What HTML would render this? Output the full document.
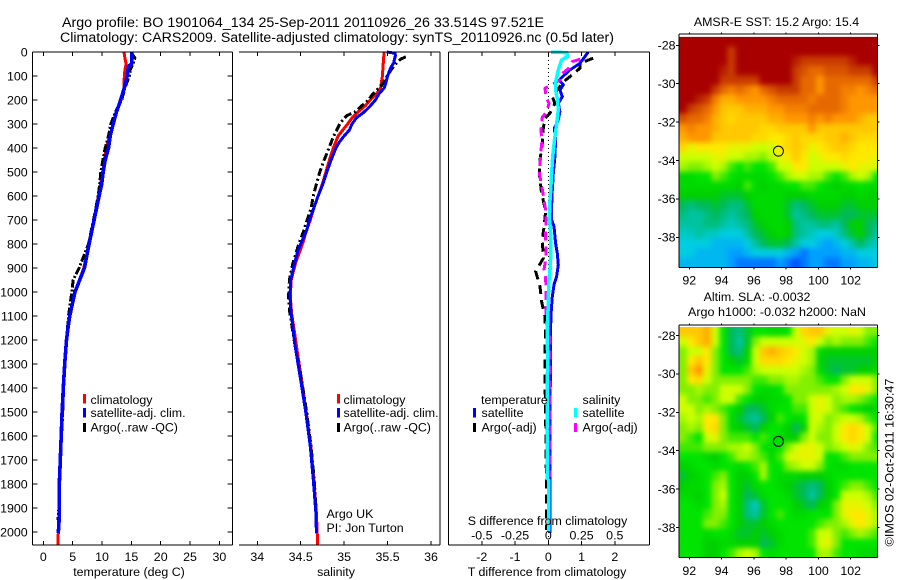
<!DOCTYPE html>
<html lang="en">
<head>
<meta charset="utf-8">
<title>Argo profile chart</title>
<style>
html,body{margin:0;padding:0;background:#fff;}
svg{display:block;}
text{font-family:"Liberation Sans",sans-serif;font-size:12.4px;fill:#000;}
.title{font-size:14.2px;}
.mid{text-anchor:middle;}
.end{text-anchor:end;}
</style>
</head>
<body>
<svg id="chart" xmlns="http://www.w3.org/2000/svg" width="900" height="580" viewBox="0 0 900 580">
<defs>
<filter id="mapSmooth" filterUnits="userSpaceOnUse" x="640" y="0" width="260" height="580" color-interpolation-filters="sRGB">
<feGaussianBlur stdDeviation="2.6"/>
</filter>
</defs>
<rect x="0" y="0" width="900" height="580" fill="#fff"/>
<g id="maps"></g>
<g id="series"></g>
<g id="axes"></g>

<text class="title" x="62" y="27" textLength="482" lengthAdjust="spacingAndGlyphs">Argo profile: BO 1901064_134 25-Sep-2011 20110926_26 33.514S 97.521E</text>
<text class="title" x="60" y="42" textLength="554" lengthAdjust="spacingAndGlyphs">Climatology: CARS2009. Satellite-adjusted climatology: synTS_20110926.nc (0.5d later)</text>

<text class="mid" x="129" y="576">temperature (deg C)</text>
<text class="mid" x="336" y="576">salinity</text>
<text class="mid" x="547" y="576">T difference from climatology</text>
<text class="mid" x="547.5" y="525">S difference from climatology</text>

<g>
<rect x="83" y="394" width="3" height="9.5" fill="#ff0000"/>
<text x="90.5" y="404">climatology</text>
<rect x="83" y="408" width="3" height="9.5" fill="#0000ff"/>
<text x="90.5" y="417">satellite-adj. clim.</text>
<rect x="83" y="423" width="3" height="9" fill="#000"/>
<text x="90.5" y="431.5">Argo(..raw -QC)</text>
</g>
<g>
<rect x="337" y="394" width="3" height="9.5" fill="#ff0000"/>
<text x="343.5" y="404">climatology</text>
<rect x="337" y="408" width="3" height="9.5" fill="#0000ff"/>
<text x="343.5" y="417">satellite-adj. clim.</text>
<rect x="337" y="423" width="3" height="9" fill="#000"/>
<text x="343.5" y="431.5">Argo(..raw -QC)</text>
</g>
<text x="326.5" y="518">Argo UK</text>
<text x="326.5" y="532">PI: Jon Turton</text>

<g>
<text x="481" y="404">temperature</text>
<rect x="473" y="408" width="3" height="9.5" fill="#0000ff"/>
<text x="481.5" y="417">satellite</text>
<rect x="473" y="423" width="3" height="9" fill="#000"/>
<text x="481.5" y="431.5">Argo(-adj)</text>
<text x="582.5" y="404">salinity</text>
<rect x="574" y="408" width="3" height="9.5" fill="#00ffff"/>
<text x="582.5" y="417">satellite</text>
<rect x="574" y="423" width="3" height="9" fill="#ff00ff"/>
<text x="582.5" y="431.5">Argo(-adj)</text>
</g>

<text class="mid" x="776.5" y="26">AMSR-E SST: 15.2 Argo: 15.4</text>
<text class="mid" x="757" y="301">Altim. SLA: -0.0032</text>
<text class="mid" x="777" y="316" textLength="178" lengthAdjust="spacingAndGlyphs">Argo h1000: -0.032 h2000: NaN</text>
<text class="mid" transform="translate(893.5,462.5) rotate(-90)" textLength="168" lengthAdjust="spacingAndGlyphs">©IMOS 02-Oct-2011 16:30:47</text>
</svg>

<script>
/* ---- temperature panel data ---- */
const climDepth = [0,25,50,75,100,150,200,250,300,400,500,600,700,800,900,1000,1100,1200,1300,1400,1500,1600,1700,1800,1900,2000,2053];
const climTemp = [13.75,13.9,14.1,13.9,13.8,13.75,13.1,12.5,11.9,10.7,10.1,9.4,8.6,7.8,6.9,5.4,4.5,3.95,3.65,3.4,3.2,3.05,2.9,2.73,2.7,2.55,2.5];
const satDepth = [0,50,60,100,150,200,250,300,350,400,450,500,550,600,700,800,900,1000,1100,1150,1200,1300,1400,1500,1600,1700,1800,1900,1950,2005];
const satTemp = [15.05,15.05,14.5,14.3,13.8,13.2,12.45,11.9,11.4,11.1,10.55,10.2,9.95,9.5,8.65,7.8,7.0,5.4,4.5,4.2,3.95,3.65,3.4,3.2,3.05,2.9,2.73,2.7,2.7,2.55];
const argoDepthT = [3,25,50,75,100,150,200,250,300,350,400,450,500,550,600,700,800,900,950,1000,1100,1200,1300,1400,1500,1600,1700,1800,1900,1950];
const argoTemp = [15.0,15.6,15.3,14.8,14.65,13.9,13.35,12.3,11.5,11.1,10.55,10.15,9.8,9.6,9.35,8.55,7.7,6.1,5.1,4.85,4.3,3.95,3.65,3.45,3.3,3.1,2.9,2.65,2.65,2.5];
const tempTicks = [0,5,10,15,20,25,30];
const depthTicks = [0,100,200,300,400,500,600,700,800,900,1000,1100,1200,1300,1400,1500,1600,1700,1800,1900,2000];

/* ---- salinity panel data ---- */
const climDepthS = [0,50,100,150,175,200,225,250,275,300,350,400,450,500,550,600,650,700,750,790,880,950,1019,1090,1160,1235,1367,1505,1644,1783,1922,2053];
const climSal = [35.46,35.45,35.44,35.42,35.37,35.30,35.24,35.16,35.09,35.04,34.93,34.875,34.83,34.79,34.75,34.70,34.65,34.61,34.56,34.53,34.44,34.39,34.38,34.395,34.425,34.455,34.51,34.565,34.615,34.65,34.68,34.695];
const satDepthS = [0,5,15,45,70,100,130,150,175,200,225,250,275,300,325,350,375,400,450,500,550,600,650,700,742,825,880,950,1019,1090,1160,1235,1367,1505,1644,1783,1922,2005];
const satSal = [35.49,35.585,35.59,35.57,35.53,35.50,35.48,35.46,35.40,35.36,35.30,35.23,35.14,35.09,35.06,35.0,34.945,34.905,34.85,34.80,34.755,34.70,34.65,34.60,34.57,34.47,34.43,34.385,34.377,34.39,34.415,34.44,34.5,34.56,34.61,34.645,34.675,34.68];
const argoDepthS = [20,30,40,60,80,110,140,160,180,200,225,250,265,280,300,350,400,450,500,550,600,650,700,750,797,880,950,1019,1075,1144,1235,1367,1505,1644,1783,1922];
const argoSal = [35.71,35.65,35.62,35.57,35.53,35.48,35.43,35.37,35.32,35.28,35.20,35.125,35.03,34.99,34.95,34.88,34.825,34.77,34.72,34.68,34.645,34.62,34.575,34.53,34.48,34.41,34.37,34.36,34.37,34.40,34.44,34.51,34.57,34.62,34.655,34.68];
const salTicks = [34,34.5,35,35.5,36];

/* ---- difference panel data ---- */
const tDiffSatDepth = [0,19,47,75,96,117,137,158,186,214,249,283,318,367,436,506,575,644,700,727,797,839,887,936,970,1019,1075,1144,1214,1283,1367,1600,1800,2005];
const tDiffSat = [1.2,1.1,0.95,0.65,0.48,0.33,0.45,0.35,0.42,0.3,0.35,0.3,0.18,0.22,0.2,0.15,0.12,0.1,0.1,0.17,0.22,0.27,0.3,0.25,0.17,0.12,0.09,0.07,0.06,0.06,0.06,0.05,0.05,0.05];
const tDiffArgoDepth = [26,47,68,103,117,144,186,214,256,276,318,380,450,506,589,638,665,720,783,859,915,977,1040,1102,1179,1241,1367,1506,1853,1992];
const tDiffArgo = [1.35,0.95,0.95,0.65,0.52,0.35,0.12,0.2,0.05,-0.1,-0.15,-0.18,-0.25,-0.27,-0.2,-0.12,-0.08,-0.12,-0.18,-0.15,-0.38,-0.25,-0.2,-0.1,-0.08,-0.1,-0.1,-0.08,-0.05,-0.05];
const sDiffSatDepth = [0,3,19,33,75,117,158,200,242,297,353,436,506,575,644,700,727,797,894,964,1047,1116,1214,1283,1367,1575,1777,1784,1999];
const sDiffSat = [0.02,0.14,0.145,0.1,0.075,0.058,0.055,0.07,0.075,0.063,0.05,0.033,0.025,0.018,0.01,0.008,0.015,0.02,0.015,0.003,0,-0.005,-0.008,-0.002,-0.008,-0.01,-0.01,0.003,0.003];
const sDiffArgoDepth = [30,40,68,89,117,151,186,214,249,272,311,380,450,506,533,589,658,714,783,852,908,929,985,1061,1116,1186,1436,1770];
const sDiffArgo = [0.24,0.18,0.155,0.105,0.088,-0.025,-0.018,0.005,-0.012,-0.045,-0.055,-0.05,-0.06,-0.068,-0.058,-0.04,-0.02,-0.018,-0.02,-0.015,-0.033,-0.023,-0.015,-0.018,-0.018,0.013,0.013,0.013];
const diffTicksT = [-2,-1,0,1,2];
const diffTicksS = ['-0.5','-0.25','0','0.25','0.5'];

/* ---- map data: 0.5 deg cells, colour level 0 (blue) .. 14 (dark red) ---- */
const lonTicks = [92,94,96,98,100,102];
const latTicks = [-28,-30,-32,-34,-36,-38];
const profileLon = 97.521;
const profileLat = -33.514;
const sstGrid = [
[14,14,14,14,14,14,14,14,14,14,14,14,14,14,14,14,14,14,14,14,14,14,14,14,14],
[14,14,14,14,14,14,13,14,14,14,14,14,14,14,14,14,14,14,14,14,14,14,14,14,14],
[14,14,14,14,14,14,13,14,14,14,14,14,14,14,13.5,13,13,13,13,13,13,13.5,14,14,14],
[14,14,14,14,14,13.5,13,14,14,14,14,14,14,14,13,12.5,12,12,12.5,12.5,12.5,13,13,13,14],
[14,14,14,14,14,13,13,13,13,13,14,14,14,14,13,12,12,11,12,12,12,12,12,12,13],
[14,14,14,14,13,12,11.5,12,11.5,11,12,12.5,13,13,13,12,12,11,12,12,11.5,11.5,11,11.5,12],
[14,14,13.5,13,11.5,10.5,10.5,11,11,11,11,11.5,12,12,12,12,11.5,12,12,12,11.5,11,11,11,11],
[14,13,12.5,12,11,10,10,10,10.5,10.5,10.5,11,11,11.5,11.5,11.5,12,12,12,12,11.5,11,11,11,11],
[12.5,12,12,11.5,10.5,10,9.5,10,10,10,10,10.5,10.5,11,11,11,11.5,11,11.5,11,11,11,10.5,10,10],
[11,11.5,11,11,10.5,10,10,10,10,10,9.5,9.5,10,10,10,10,11,10,10,10,10,10,10,10,10],
[10.5,11,11,11,10,10,10,10,10,9.5,9.5,9,9,9.5,10,9.5,9.5,9.5,10,10,10.5,10,9.5,9.5,9.5],
[9.5,8.5,9,9,9,9,8.5,8.5,8.5,8,8,8,9,9.5,10,9.5,8.5,9,9.5,10,10,9.5,9,9,9],
[8,8,8,8,8.5,8.5,8,8,7.5,7.5,7,8,8.5,9,10,9,8,8.5,9,9,9.5,9,9,9,8.5],
[7.5,7,7,7.5,8,7.5,6.5,6,6.5,6,6,6.5,8,8,9,9,8,8,8,8,8.5,9,8.5,8.5,8],
[5.5,5.5,6,6,7,6.5,6,5.5,5.5,5.5,5.5,6,6.5,7.5,8,8,7.5,7.5,6.5,6,6.5,7.5,8,7.5,6],
[5.5,5.5,5.5,5.5,5.5,5.5,5.5,5,6.5,5.5,5,5.5,5.5,6,6,6.5,6.5,6,5.5,5,5.5,5.5,6,5.5,5.5],
[5,5,5,5,5,4.5,4.5,4.5,5,5.5,5.5,5.5,5.5,5,5,5,5.5,5.5,5.5,5.5,5,5,5.5,5,5],
[4,3.5,4,4,4.5,4,3.5,3.5,4.5,5.5,5.5,5.5,5.5,4.5,3.5,4,4.5,5,5,5,4.5,4.5,5,5,5],
[3.5,3,3,3.5,4,3.5,3,3.5,4,5,5.5,5.5,5.5,4.5,3,3.5,4,4.5,4.5,4.5,4,4,4.5,4.5,4.5],
[3,3,3,3.5,3.5,3,2.5,3,3.5,4.5,5,5.5,5.5,5,3.5,3,3,3.5,3.5,3,4,5,5,4,3.5],
[2.5,2.5,3,2.5,2.5,2,2,2,3,4,4.5,5,5.5,5,3.5,3,2.5,2,2,2.5,3.5,4.5,5,4,3],
[2,2,2,2,1.5,1.5,1.5,1.5,2,3,4,4.5,4.5,4,3,2,2,1.5,1,1.5,2,3,4,3,2.5],
[2,2,1.5,1.5,1.5,1.5,1,1,1.5,2,2,2,2,1.5,1,0.5,1,1,1,1,1.5,1.5,2,2,2],
[1.5,1.5,1.5,1.5,1.5,1.5,1,0.5,0.5,0.5,0.5,0.5,1,0.5,0,0.5,1,1,0.5,0.5,1,1,1.5,1.5,2]
];
const slaGrid = [
[10,10,10,10.5,8,6,4,3.5,4.5,6,6,5.5,5.5,6,8,9.5,10,10,8.5,8,8,8.5,8,7,7],
[8,9,10,10.5,8,6,4,3,4.5,7,8,8,8,8,8,8.5,9,8,7,7.5,7,7,7,6.5,6],
[7,8,8,9,7,6,4,3.5,5,8,10,10.5,10,9.5,9,8,7.5,5.5,5,5,5,5,5,5,5],
[7,9,10,9,7,6,5,4.5,5.5,8,9.5,9.5,9.5,9,8.5,8,7.5,5,4.5,4.5,4.5,4.5,4.5,4.5,5],
[7,10,11,8.5,7,6,6,6,6.5,7.5,8,8,8,8,8,7.5,7,5.5,4.5,4,4.5,4.5,5,5,5.5],
[7,9,9.5,8,7,7,7,7,7,6.5,6.5,7,7,7.5,7.5,7,7,6.5,6,6,7,8,8,8,7],
[7,7,7.5,7,7,8,8,8,7,6,5.5,5.5,6,7,7,7,7,7,7,7.5,8,9,9,8.5,7],
[8,7,7,6.5,7,8,8,6.5,6,5,5,5.5,5.5,6,7,7,8,8.5,8,7,7.5,7.5,7,6.5,6],
[8,8,7,7.5,7,6.5,6,5,4,4,4.5,5.5,6,6,6.5,6.5,8,8.5,8,7,6.5,6,5.5,5,5.5],
[7.5,8,7.5,9,9,7,5.5,4.5,3.5,3,4,5,6.5,6,5.5,6,8,8,7,7.5,8,8,7.5,6.5,6],
[7,7.5,7,9,9.5,7,5.5,5,4.5,4,5,6,6,5,4,5,8,7.5,7,8,9,9.5,9,8,6.5],
[7,6.5,6,8,8.5,7,6.5,6.5,6.5,6,6.5,6,5.5,5,5,7,8,7,7,8,9,9.5,9,8,6],
[6.5,6.5,6.5,7,7,7,7.5,7.5,8,7,6,5.5,6,7,8,8.5,8.5,8,7,7.5,8,8.5,8,7,6.5],
[6,6,6,5.5,5,6,6.5,7.5,7.5,7,6.5,5.5,6.5,8,8.5,8.5,8.5,8,6,6,6.5,7,7,7,7],
[5,5.5,6,6,5.5,6,6,5.5,6,6.5,7.5,6,6,7,7.5,8,8,7,6,5.5,5.5,6,6,6,6],
[4.5,5,5.5,6,6.5,7,6,5,5,6,7.5,6,5.5,5.5,5.5,5,5,5,5.5,6,6,6,6,6,6],
[5,5.5,5.5,6,7,7.5,6,5,4.5,5.5,6,6,5.5,5,4.5,4,3.5,4,5,6,6.5,7,7,6.5,6],
[5.5,5.5,5,6,7,8,6,5,4,4.5,5.5,6,6,5.5,4.5,4,3,4,5,6,8,8,8,7.5,6.5],
[6,6,5.5,6,7,7.5,6,5,3.5,2.5,4.5,6,6,6,5,4.5,4,5,5.5,7,8.5,8.5,8.5,8,7],
[6,6,6,6.5,7,7,6,5,3.5,3,4.5,6,6.5,6,5.5,5.5,6,6,6,7,8.5,9,9,8.5,7.5],
[6,6,6,7,7,6.5,6,5,4.5,4.5,5,5.5,6,6,6,6,6,6.5,7,7,7.5,8.5,9,8.5,7.5],
[6,6,6,5.5,6,6,5.5,4.5,4.5,5,4.5,5,5.5,6,6,6,6.5,8,8,7,6.5,7,7.5,7,6.5],
[6,6,6,5,5,5.5,5.5,5,5,5,4,4.5,5.5,6,6,6,6.5,8,8.5,7,6,6,6,6,6],
[6,6,6,5,5,6,6.5,7.5,8,7.5,6,5.5,6,6,6,6,6,7.5,7.5,6.5,6,6,5.5,5.5,5]
];

/* ---- axis functions ---- */
const SVGNS = 'http://www.w3.org/2000/svg';
function xTemp(v){ return 43.3 + 5.87 * v; }
function xSal(v){ return 257.3 + 86.85 * (v - 34); }
function xDiffT(v){ return 548.3 + 33.25 * v; }
function xDiffS(v){ return 548.3 + 133 * v; }
function yDepth(d){ return 52 + 0.24 * d; }
function xLon(v){ return 689.3 + 16.14 * (v - 92); }
function ySst(v){ return 45.3 + 19.2 * (-28 - v); }
function ySla(v){ return 335.5 + 19.2 * (-28 - v); }

function make(tag, parent, attrs){
  const e = document.createElementNS(SVGNS, tag);
  for (const k in attrs) e.setAttribute(k, attrs[k]);
  parent.appendChild(e);
  return e;
}
const mapsLayer = document.getElementById('maps');
const seriesLayer = document.getElementById('series');
const axesLayer = document.getElementById('axes');

function drawLine(parent, x1, y1, x2, y2, name){
  const l = make('line', parent, {x1:x1, y1:y1, x2:x2, y2:y2, stroke:'#000', 'stroke-width':1, 'shape-rendering':'crispEdges'});
  
  
  return l;
}
function drawLabel(parent, x, y, str, cls, name){
  const t = make('text', parent, {x:x, y:y, 'class':cls});
  t.textContent = String(str);
  
  
  return t;
}
function drawSeries(xs, depths, xFn, color, width, dash, name){
  const pts = xs.map(function(v, i){ return xFn(v).toFixed(1) + ',' + yDepth(depths[i]).toFixed(1); }).join(' ');
  const p = make('polyline', seriesLayer, {points:pts, fill:'none', stroke:color, 'stroke-width':width, 'stroke-linejoin':'round', 'shape-rendering':'crispEdges'});
  if (dash) p.setAttribute('stroke-dasharray', dash);
  
  
}

/* ---- profile panels ---- */
const zero = drawLine(seriesLayer, xDiffT(0), 52, xDiffT(0), 545, 'zero-reference-line');
zero.setAttribute('stroke-dasharray', '1 3');

drawSeries(climTemp, climDepth, xTemp, '#ff0000', 3, null, 'temperature-climatology-line');
drawSeries(argoTemp, argoDepthT, xTemp, '#000', 3, '8 2 2 2', 'temperature-argo-line');
drawSeries(satTemp, satDepth, xTemp, '#0000ff', 3.6, null, 'temperature-satellite-line');

drawSeries(climSal, climDepthS, xSal, '#ff0000', 3, null, 'salinity-climatology-line');
drawSeries(argoSal, argoDepthS, xSal, '#000', 3, '8 3 2 3', 'salinity-argo-line');
drawSeries(satSal, satDepthS, xSal, '#0000ff', 3, null, 'salinity-satellite-line');

drawSeries(tDiffArgo, tDiffArgoDepth, xDiffT, '#000', 3, '9 6', 't-difference-argo-line');
drawSeries(tDiffSat, tDiffSatDepth, xDiffT, '#0000ff', 3, null, 't-difference-satellite-line');
drawSeries(sDiffArgo, sDiffArgoDepth, xDiffS, '#ff00ff', 3, '9 6', 's-difference-argo-line');
drawSeries(sDiffSat, sDiffSatDepth, xDiffS, '#00ffff', 3.5, null, 's-difference-satellite-line');

/* ---- profile axes ---- */
function frame(x0, x1, leftLine){
  const yT = 52, yB = 545;
  drawLine(axesLayer, x0, yT, x1, yT, 'panel-top-border');
  drawLine(axesLayer, x0, yB, x1, yB, 'panel-bottom-border');
  drawLine(axesLayer, x1, yT, x1, yB, 'panel-right-border');
  if (leftLine) drawLine(axesLayer, x0, yT, x0, yB, 'panel-left-border');
}
function xTicks(values, xFn, labels){
  values.forEach(function(v, i){
    const x = xFn(v);
    drawLine(axesLayer, x, 52, x, 56, 'x-tick-top');
    drawLine(axesLayer, x, 545, x, 541, 'x-tick-bottom');
    drawLabel(axesLayer, x, 561, labels ? labels[i] : v, 'mid', 'x-tick-label');
  });
}
frame(32.5, 232.5, true);
frame(239, 440, false);
frame(448.5, 649.5, true);
xTicks(tempTicks, xTemp);
xTicks(salTicks, xSal);
xTicks(diffTicksT, xDiffT);
diffTicksS.forEach(function(s, i){
  drawLabel(axesLayer, xDiffT(diffTicksT[i]), 539.5, s, 'mid', 's-difference-tick-label');
});
depthTicks.forEach(function(d){
  const y = yDepth(d);
  drawLine(axesLayer, 32.5, y, 37.5, y, 'depth-tick-left');
  drawLine(axesLayer, 232.5, y, 227.5, y, 'depth-tick-right');
  drawLabel(axesLayer, 27.7, y + 4.3, d, 'end', 'depth-tick-label');
});

/* ---- colour scale ---- */
const levelColors = [
[0,80,255],[0,160,255],[0,205,225],[0,195,160],[0,185,90],[0,208,0],[0,228,0],[130,240,0],
[205,255,0],[255,232,0],[255,200,0],[255,150,0],[230,105,0],[200,60,0],[168,0,0]
];
function levelColor(v){
  const i = Math.min(13, Math.floor(v));
  const f = v - i;
  const a = levelColors[i], b = levelColors[i + 1];
  return 'rgb(' + [0,1,2].map(function(k){ return Math.round(a[k] + (b[k] - a[k]) * f); }).join(',') + ')';
}

/* ---- maps ---- */
const gridTopLat = -27.56;
const gridLeftLon = 91.36;
const gridStep = 0.5;
function drawMap(grid, yFn, name, frameTop, labelY, clipId){
  const left = 679, right = 877.5, top = frameTop;
  const imgTop = yFn(gridTopLat);
  const bottom = yFn(gridTopLat - gridStep * grid.length);
  const defs = document.querySelector('#chart defs');
  const cp = make('clipPath', defs, {id:clipId});
  make('rect', cp, {x:left, y:imgTop, width:right - left, height:bottom - imgTop});
  const outer = make('g', mapsLayer, {'clip-path':'url(#' + clipId + ')'});
  
  
  const g = make('g', outer, {'shape-rendering':'crispEdges', filter:'url(#mapSmooth)'});
  
  
  grid.forEach(function(row, r){
    row.forEach(function(val, c){
      const lonA = gridLeftLon + gridStep * c;
      const latA = gridTopLat - gridStep * r;
      let x0 = xLon(lonA), x1 = xLon(lonA + gridStep);
      let y0 = yFn(latA), y1 = yFn(latA - gridStep);
      if (c === 0) x0 -= 14;
      if (c === row.length - 1) x1 += 14;
      if (r === 0) y0 -= 14;
      if (r === grid.length - 1) y1 += 14;
      const cell = make('rect', g, {x:x0.toFixed(2), y:y0.toFixed(2), width:(x1 - x0 + 0.4).toFixed(2), height:(y1 - y0 + 0.4).toFixed(2), fill:levelColor(val)});
      
      
    });
  });
  drawLine(axesLayer, left, top, right, top, 'map-top-border');
  drawLine(axesLayer, left, bottom, right, bottom, 'map-bottom-border');
  drawLine(axesLayer, left, top, left, bottom, 'map-left-border');
  drawLine(axesLayer, right, top, right, bottom, 'map-right-border');
  lonTicks.forEach(function(v){
    const x = xLon(v);
    drawLine(axesLayer, x, top, x, top - 1.5, 'map-lon-tick-top');
    drawLine(axesLayer, x, bottom, x, bottom + 2, 'map-lon-tick-bottom');
    drawLabel(axesLayer, x, labelY, v, 'mid', 'map-lon-tick-label');
  });
  latTicks.forEach(function(v){
    const y = yFn(v);
    drawLine(axesLayer, left, y, left - 3, y, 'map-lat-tick-left');
    drawLine(axesLayer, right, y, right + 2, y, 'map-lat-tick-right');
    drawLabel(axesLayer, 675.5, y + 4.3, v, 'end', 'map-lat-tick-label');
  });
  const m = make('circle', axesLayer, {cx:xLon(profileLon), cy:yFn(profileLat), r:5, fill:'none', stroke:'#000', 'stroke-width':1});
  
  
}
drawMap(sstGrid, ySst, 'sst-heatmap', 34, 284.5, 'sstClip');
drawMap(slaGrid, ySla, 'sla-heatmap', 325, 575, 'slaClip');
</script>
</body>
</html>
